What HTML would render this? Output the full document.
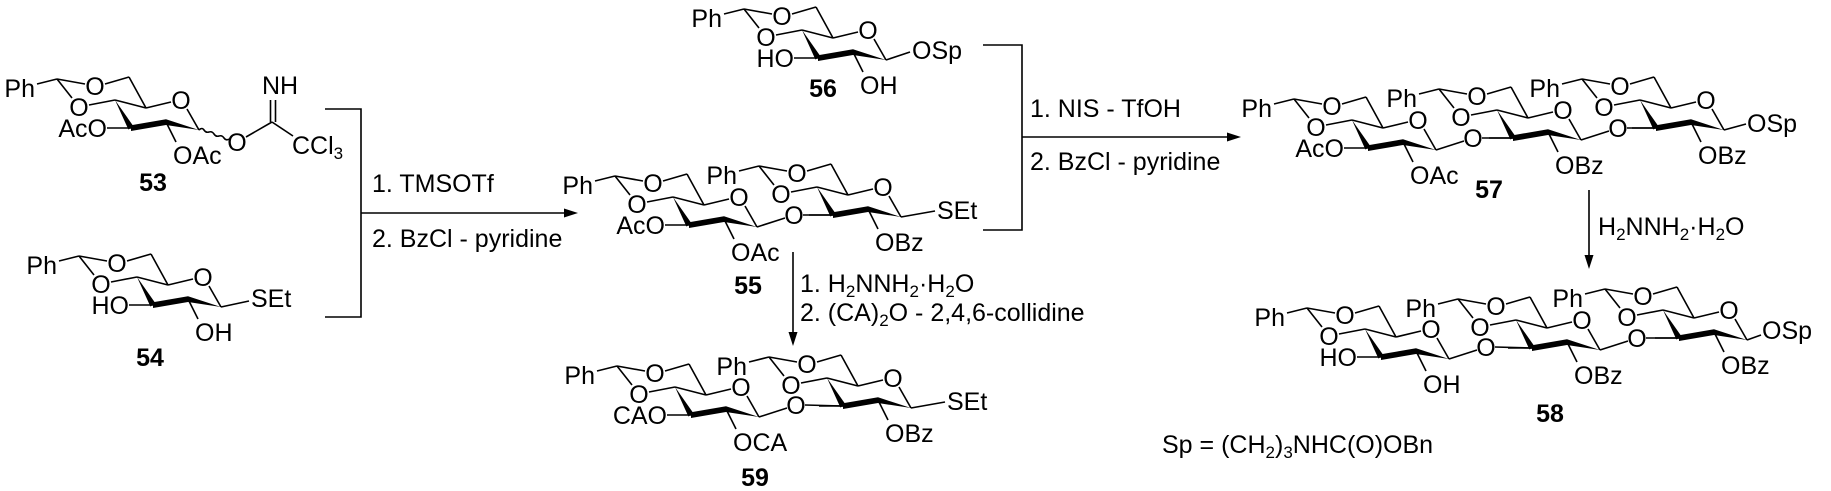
<!DOCTYPE html>
<html><head><meta charset="utf-8"><style>
html,body{margin:0;padding:0;background:#fff;}
svg{display:block;}
text{font-family:"Liberation Sans",Arial,sans-serif;font-size:25px;fill:#000;}
.c{text-anchor:middle;}
.e{text-anchor:end;}
.b{font-weight:bold;}
line,path.s{stroke:#000;stroke-width:1.6;fill:none;}
</style></head><body>
<svg width="1831" height="491" viewBox="0 0 1831 491" xmlns="http://www.w3.org/2000/svg">
<defs>
<g id="u">
<line x1="-58" y1="-21" x2="-78" y2="-16"/>
<line x1="-58" y1="-21" x2="-30" y2="-16"/>
<line x1="-10" y1="-16" x2="14" y2="-23"/>
<line x1="14" y1="-23" x2="31" y2="8"/>
<line x1="31" y1="8" x2="56" y2="2"/>
<line x1="72" y1="9" x2="84" y2="30"/>
<line x1="-58" y1="-21" x2="-43" y2="-2"/>
<line x1="-26" y1="5" x2="0" y2="0"/>
<line x1="0" y1="0" x2="31" y2="8"/>
<polygon points="0,0 18.6,26.5 13.4,29.5" fill="#000"/>
<polygon points="16,25.2 51,19.3 51,25 16,31" fill="#000"/>
<polygon points="51,19.3 51,25 84,30" fill="#000"/>
<line x1="-8" y1="28" x2="16" y2="28"/>
<line x1="51" y1="22" x2="61" y2="42"/>
</g>
</defs>

<!-- 53 -->
<g transform="translate(115,100)">
<use href="#u"/>
<text x="-80" y="-3" class="e">Ph</text><text x="-20" y="-5" class="c">O</text><text x="66" y="9" class="c">O</text><text x="-36" y="16" class="c">O</text>
<text x="-8" y="37" class="e">AcO</text>
<text x="58" y="64">OAc</text>
<path class="s" d="M84,30 q3,-3 5,0 t5,2 t5,2 t5,2 t5,2 t5,1"/>
<text x="122" y="51" class="c">O</text>
<line x1="131" y1="37" x2="157" y2="22"/>
<line x1="155.5" y1="22" x2="155.5" y2="0"/>
<line x1="160.5" y1="22" x2="160.5" y2="0"/>
<text x="165" y="-6" class="c">NH</text>
<line x1="157" y1="22" x2="178" y2="36"/>
<text x="177" y="54">CCl<tspan font-size="17" dy="5">3</tspan></text>
</g>
<text x="153" y="191" class="c b">53</text>

<!-- 54 -->
<g transform="translate(137,277)">
<use href="#u"/>
<text x="-80" y="-3" class="e">Ph</text><text x="-20" y="-5" class="c">O</text><text x="66" y="9" class="c">O</text><text x="-36" y="16" class="c">O</text>
<text x="-8" y="37" class="e">HO</text>
<text x="58" y="64">OH</text>
<line x1="84" y1="30" x2="112" y2="24"/>
<text x="114" y="30">SEt</text>
</g>
<text x="150" y="366" class="c b">54</text>

<!-- bracket 1 -->
<path class="s" d="M325,109 H361 V317 H325"/>
<line x1="361" y1="213" x2="566" y2="213"/>
<polygon points="578,213 564,208.5 564,217.5" fill="#000"/>
<text x="372" y="192">1. TMSOTf</text>
<text x="372" y="247">2. BzCl - pyridine</text>

<!-- 55 -->
<g transform="translate(673,197)">
<use href="#u"/>
<text x="-80" y="-3" class="e">Ph</text><text x="-20" y="-5" class="c">O</text><text x="66" y="9" class="c">O</text><text x="-36" y="16" class="c">O</text>
<text x="-8" y="37" class="e">AcO</text>
<text x="58" y="64">OAc</text>
<line x1="84" y1="30" x2="112" y2="21"/>
<text x="121" y="27" class="c">O</text>
<line x1="130" y1="18" x2="160" y2="18"/>
</g>
<g transform="translate(817,187)">
<use href="#u"/>
<text x="-80" y="-3" class="e">Ph</text><text x="-20" y="-5" class="c">O</text><text x="66" y="9" class="c">O</text><text x="-36" y="16" class="c">O</text>
<text x="58" y="64">OBz</text>
<line x1="84" y1="30" x2="118" y2="24"/>
<text x="120" y="32">SEt</text>
</g>
<text x="748" y="294" class="c b">55</text>

<!-- 56 -->
<g transform="translate(802,30)">
<use href="#u"/>
<text x="-80" y="-3" class="e">Ph</text><text x="-20" y="-5" class="c">O</text><text x="66" y="9" class="c">O</text><text x="-36" y="16" class="c">O</text>
<text x="-8" y="37" class="e">HO</text>
<text x="58" y="64">OH</text>
<line x1="84" y1="30" x2="108" y2="22"/>
<text x="110" y="29">OSp</text>
</g>
<text x="823" y="97" class="c b">56</text>

<!-- bracket 2 -->
<path class="s" d="M983,45 H1022 V230 H983"/>
<line x1="1022" y1="137" x2="1228" y2="137"/>
<polygon points="1241,137 1227,132.5 1227,141.5" fill="#000"/>
<text x="1030" y="117">1. NIS - TfOH</text>
<text x="1030" y="170">2. BzCl - pyridine</text>

<!-- arrow 55 -> 59 -->
<line x1="793" y1="252" x2="793" y2="333"/>
<polygon points="793,346 788.5,332 797.5,332" fill="#000"/>
<text x="800" y="292">1. H<tspan font-size="17" dy="5">2</tspan><tspan dy="-5">NNH</tspan><tspan font-size="17" dy="5">2</tspan><tspan dy="-5">·H</tspan><tspan font-size="17" dy="5">2</tspan><tspan dy="-5">O</tspan></text>
<text x="800" y="321">2. (CA)<tspan font-size="17" dy="5">2</tspan><tspan dy="-5">O - 2,4,6-collidine</tspan></text>

<!-- 59 -->
<g transform="translate(675,387)">
<use href="#u"/>
<text x="-80" y="-3" class="e">Ph</text><text x="-20" y="-5" class="c">O</text><text x="66" y="9" class="c">O</text><text x="-36" y="16" class="c">O</text>
<text x="-8" y="37" class="e">CAO</text>
<text x="58" y="64">OCA</text>
<line x1="84" y1="30" x2="112" y2="21"/>
<text x="121" y="27" class="c">O</text>
<line x1="130" y1="18" x2="168" y2="19"/>
</g>
<g transform="translate(827,378)">
<use href="#u"/>
<text x="-80" y="-3" class="e">Ph</text><text x="-20" y="-5" class="c">O</text><text x="66" y="9" class="c">O</text><text x="-36" y="16" class="c">O</text>
<text x="58" y="64">OBz</text>
<line x1="84" y1="30" x2="118" y2="24"/>
<text x="120" y="32">SEt</text>
</g>
<text x="755" y="486" class="c b">59</text>

<!-- 57 -->
<g transform="translate(1352,120)">
<use href="#u"/>
<text x="-80" y="-3" class="e">Ph</text><text x="-20" y="-5" class="c">O</text><text x="66" y="9" class="c">O</text><text x="-36" y="16" class="c">O</text>
<text x="-8" y="37" class="e">AcO</text>
<text x="58" y="64">OAc</text>
<line x1="84" y1="30" x2="112" y2="21"/>
<text x="121" y="27" class="c">O</text>
<line x1="130" y1="18" x2="161" y2="18"/>
</g>
<g transform="translate(1497,110)">
<use href="#u"/>
<text x="-80" y="-3" class="e">Ph</text><text x="-20" y="-5" class="c">O</text><text x="66" y="9" class="c">O</text><text x="-36" y="16" class="c">O</text>
<text x="58" y="64">OBz</text>
<line x1="84" y1="30" x2="112" y2="21"/>
<text x="121" y="27" class="c">O</text>
<line x1="130" y1="18" x2="159" y2="18"/>
</g>
<g transform="translate(1640,100)">
<use href="#u"/>
<text x="-80" y="-3" class="e">Ph</text><text x="-20" y="-5" class="c">O</text><text x="66" y="9" class="c">O</text><text x="-36" y="16" class="c">O</text>
<text x="58" y="64">OBz</text>
<line x1="84" y1="30" x2="106" y2="24"/>
<text x="107" y="32">OSp</text>
</g>
<text x="1489" y="198" class="c b">57</text>

<!-- arrow 57 -> 58 -->
<line x1="1589" y1="190" x2="1589" y2="256"/>
<polygon points="1589,269 1584.5,255 1593.5,255" fill="#000"/>
<text x="1598" y="235">H<tspan font-size="17" dy="5">2</tspan><tspan dy="-5">NNH</tspan><tspan font-size="17" dy="5">2</tspan><tspan dy="-5">·H</tspan><tspan font-size="17" dy="5">2</tspan><tspan dy="-5">O</tspan></text>

<!-- 58 -->
<g transform="translate(1365,329)">
<use href="#u"/>
<text x="-80" y="-3" class="e">Ph</text><text x="-20" y="-5" class="c">O</text><text x="66" y="9" class="c">O</text><text x="-36" y="16" class="c">O</text>
<text x="-8" y="37" class="e">HO</text>
<text x="58" y="64">OH</text>
<line x1="84" y1="30" x2="112" y2="21"/>
<text x="121" y="27" class="c">O</text>
<line x1="130" y1="18" x2="167" y2="19"/>
</g>
<g transform="translate(1516,320)">
<use href="#u"/>
<text x="-80" y="-3" class="e">Ph</text><text x="-20" y="-5" class="c">O</text><text x="66" y="9" class="c">O</text><text x="-36" y="16" class="c">O</text>
<text x="58" y="64">OBz</text>
<line x1="84" y1="30" x2="112" y2="21"/>
<text x="121" y="27" class="c">O</text>
<line x1="130" y1="18" x2="163" y2="18"/>
</g>
<g transform="translate(1663,310)">
<use href="#u"/>
<text x="-80" y="-3" class="e">Ph</text><text x="-20" y="-5" class="c">O</text><text x="66" y="9" class="c">O</text><text x="-36" y="16" class="c">O</text>
<text x="58" y="64">OBz</text>
<line x1="84" y1="30" x2="98" y2="25"/>
<text x="99" y="29">OSp</text>
</g>
<text x="1550" y="422" class="c b">58</text>

<text x="1162" y="453">Sp = (CH<tspan font-size="17" dy="5">2</tspan><tspan dy="-5">)</tspan><tspan font-size="17" dy="5">3</tspan><tspan dy="-5">NHC(O)OBn</tspan></text>
</svg>
</body></html>
